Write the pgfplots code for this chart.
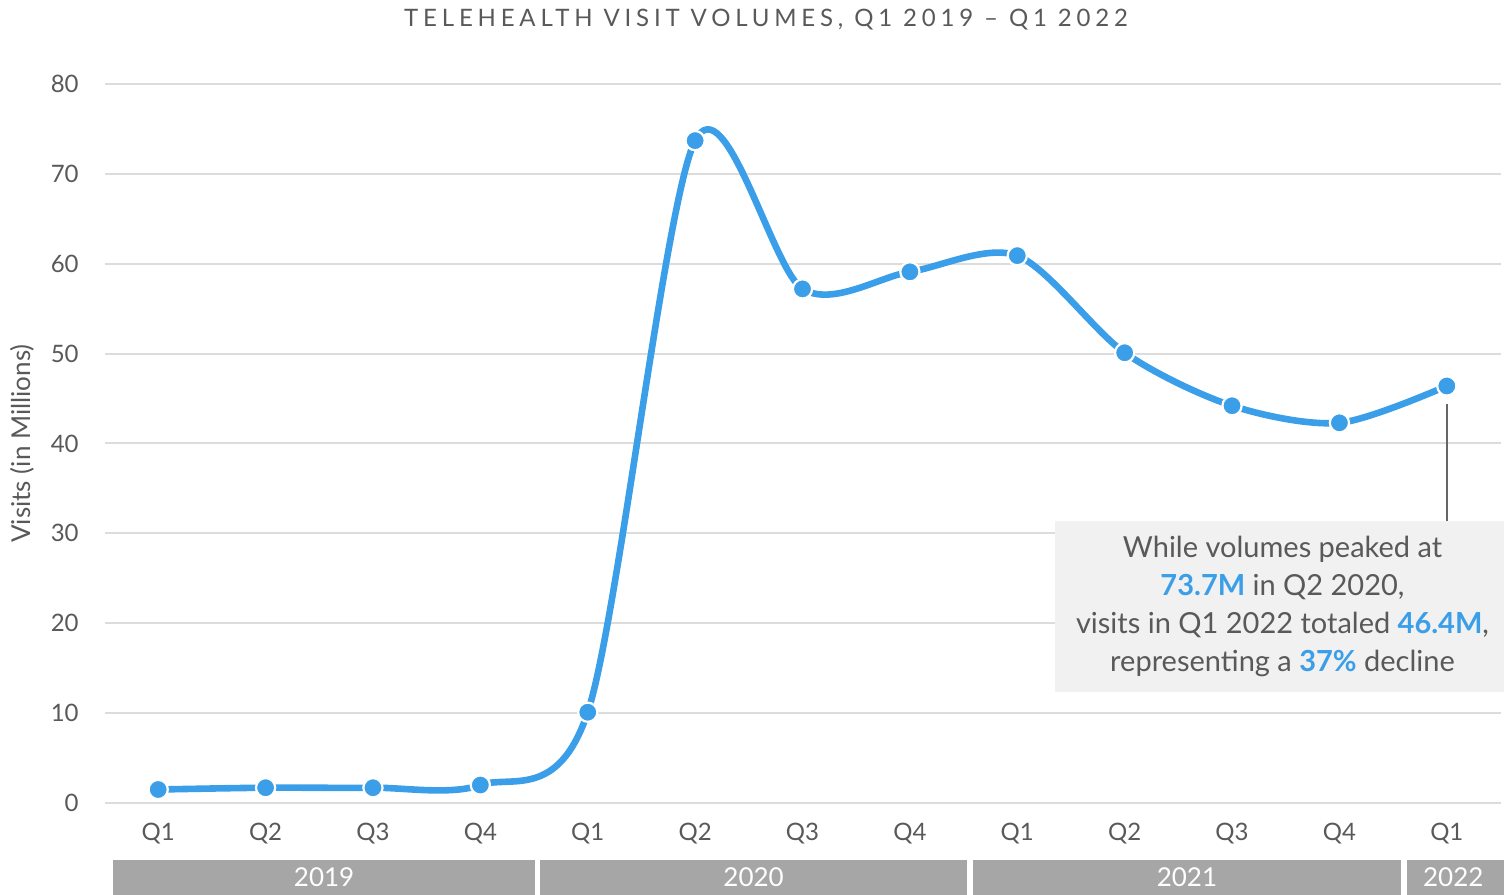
\documentclass[border=0pt]{standalone}
\usepackage{pgfplots}
\pgfplotsset{compat=1.18}
\usepackage{fontspec}
\setmainfont{Lato}
\definecolor{lineblue}{HTML}{3A9EE8}
\definecolor{txtgray}{HTML}{595959}
\definecolor{gridgray}{HTML}{DCDCDC}
\definecolor{bargray}{HTML}{A6A6A6}
\definecolor{boxgray}{HTML}{F1F1F1}
\definecolor{leadgray}{HTML}{666666}
\begin{document}
\begin{tikzpicture}
\begin{axis}[
 at={(52.25pt,45.5pt)}, anchor=south west,
 scale only axis, width=698pt, height=359.5pt,
 xmin=-0.5, xmax=12.5, ymin=0, ymax=80,
 axis lines*=left, axis line style={draw=none},
 ytick={0,10,...,80},
 xtick={0,...,12},
 xticklabels={Q1,Q2,Q3,Q4,Q1,Q2,Q3,Q4,Q1,Q2,Q3,Q4,Q1},
 major tick length=0pt,
 ymajorgrids, grid style={gridgray, line width=1pt},
 tick label style={font=\fontsize{12}{14}\selectfont, text=txtgray},
 /pgf/number format/assume math mode=true,
 yticklabel style={anchor=east, inner sep=0pt, xshift=-12.75pt},
 xticklabel style={anchor=north, inner sep=0pt, yshift=-10pt},
 ylabel={Visits (in Millions)},
 ylabel style={font=\fontsize{13}{15}\selectfont, text=txtgray, at={(rel axis cs:0,0.5)}, yshift=41.25pt, anchor=center},
 clip=false,
]
\addplot[lineblue, line width=3.3pt, smooth, mark=*, mark size=4.8pt,
  mark options={fill=lineblue, draw=white, line width=1.1pt}] coordinates {
 (0,1.5) (1,1.7) (2,1.7) (3,2.0) (4,10.1) (5,73.7) (6,57.2) (7,59.1)
 (8,60.9) (9,50.1) (10,44.2) (11,42.3) (12,46.4)};

\fill[boxgray] (axis cs:8.35,12.35) rectangle (axis cs:12.6,31.38);
\draw[leadgray, line width=1pt] (axis cs:12,44.4) -- (axis cs:12,31.38);
\node[align=center, text=txtgray, font=\fontsize{14.5}{19}\selectfont] at (axis cs:10.47,21.87)
 {While volumes peaked at\\ \textcolor{lineblue}{\textbf{73.7M}} in Q2 2020,\\ visits in Q1 2022 totaled \textcolor{lineblue}{\textbf{46.4M}},\\ representing a \textcolor{lineblue}{\textbf{37\%}} decline};

\fill[bargray] (axis cs:-0.42,-6.34) rectangle (axis cs:3.51,-10.5);
\fill[bargray] (axis cs:3.56,-6.34) rectangle (axis cs:7.53,-10.5);
\fill[bargray] (axis cs:7.59,-6.34) rectangle (axis cs:11.57,-10.5);
\fill[bargray] (axis cs:11.63,-6.34) rectangle (axis cs:12.6,-10.5);
\node[white, font=\fontsize{13}{15}\selectfont] at (axis cs:1.545,-8.23) {2019};
\node[white, font=\fontsize{13}{15}\selectfont] at (axis cs:5.545,-8.23) {2020};
\node[white, font=\fontsize{13}{15}\selectfont] at (axis cs:9.58,-8.23) {2021};
\node[white, font=\fontsize{13}{15}\selectfont] at (axis cs:12.06,-8.23) {2022};
\end{axis}
\node[text=txtgray, font=\fontsize{12}{14}\selectfont] at (383pt,437pt)
 {\addfontfeature{LetterSpace=20}TELEHEALTH VISIT VOLUMES, Q1 2019 – Q1 2022};
\pgfresetboundingbox
\useasboundingbox (0,0) rectangle (752pt,447pt);
\end{tikzpicture}
\end{document}
